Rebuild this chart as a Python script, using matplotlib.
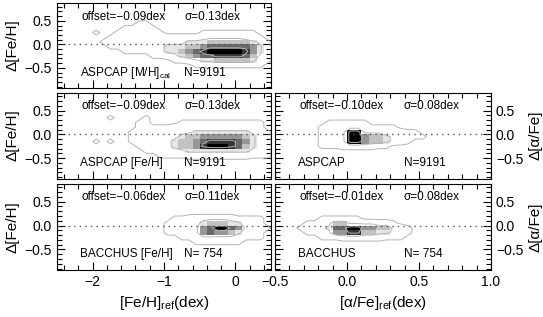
import numpy as np
import matplotlib
matplotlib.use("Agg")
import matplotlib.pyplot as plt
from matplotlib.colors import ListedColormap, BoundaryNorm
from matplotlib.ticker import MultipleLocator

plt.rcParams['font.family'] = ['Liberation Sans', 'DejaVu Sans']
plt.rcParams['mathtext.default'] = 'regular'

# Density maps, one digit per cell (0 = empty, 9 = peak).
# Rows run top to bottom. [Fe/H] maps: x from -2.4 in 0.1 dex bins, y from 0.6 down in 0.1 dex bins.
mh_cal_map = [
    "00000000000000000000000000000",
    "00000000001100000000000000000",
    "00000000111110000000000000000",
    "00001001111111000001111111100",
    "00000011111222222223333332210",
    "00000111122223333444555555431",
    "00000011112233444556777777641",
    "00000000111123445678999998641",
    "00000000000011234567788887531",
    "00000000000000011234455555421",
    "00000000000000000011111111110",
    "00000000000000000000000000000",
]
aspcap_fe_map = [
    "00000000000000000000000000000",
    "00000000000000000000000000000",
    "00000010000100000000000000000",
    "00000000001100001111111111110",
    "00000000001111122222222222110",
    "00000000011111223344444444321",
    "00000000011112234556666665421",
    "00001010011122345567888876421",
    "00000000001112345568999875421",
    "00000000000111233444444444321",
    "00000000000001111222222222111",
    "00000000000000000000000000000",
]
bacchus_fe_map = [
    "00000000000000000000000000000",
    "00000000000000000000000000000",
    "00000000000000000000000000000",
    "00000000000000000000000000000",
    "00000000000000011233333311110",
    "00000000000000122234555442210",
    "00000000000000112236799763111",
    "00000000000000112236766542110",
    "00000000000000001123333321110",
    "00000000000000000011111110000",
    "00000000000000000000000000000",
    "00000000000000000000000000000",
]
# [alpha/Fe] maps: x from -0.4 in 0.05 dex bins, y from 0.4 down in 0.1 dex bins.
aspcap_alpha_map = [
    "00000000000000000000",
    "00000111111000000000",
    "00001112222111100000",
    "00001223993332221100",
    "00001233996554321110",
    "00001233996554321000",
    "00001112222211000000",
    "00000000000000000000",
    "00000000000000000000",
]
bacchus_alpha_map = [
    "00000000000000000000",
    "00000000000000000000",
    "00001111110000000000",
    "00112355333322100000",
    "01123477996655331000",
    "00112366885544321000",
    "00001112222221110000",
    "00000000000000000000",
    "00000000000000000000",
]

# Panel captions
panel_names = [r"ASPCAP [M/H]$_{cal}$", "ASPCAP [Fe/H]", "BACCHUS [Fe/H]", "ASPCAP", "BACCHUS"]
panel_offsets = ["\u22120.09", "\u22120.09", "\u22120.06", "\u22120.10", "\u22120.01"]
panel_sigmas = ["0.13", "0.13", "0.11", "0.08", "0.08"]
panel_counts = ["9191", "9191", " 754", "9191", " 754"]

# grey shade for each density digit (0..9); digits up to 3 only show as contours
grey_levels = [1.0, 1.0, 1.0, 1.0, 0.90, 0.76, 0.59, 0.41, 0.21, 0.0]
cmap = ListedColormap([(g, g, g) for g in grey_levels])
norm = BoundaryNorm(np.arange(-0.5, 10.5, 1.0), cmap.N)


def draw_map(ax, rows, x0, dx, y0, dy):
    """Draw a density map as grey cells plus light contour lines."""
    grid = np.array([[int(c) for c in r] for r in rows], dtype=float)[::-1]
    ny, nx = grid.shape
    x_edges = x0 + dx * np.arange(nx + 1)
    y_edges = (y0 - dy * ny) + dy * np.arange(ny + 1)
    ax.pcolormesh(x_edges, y_edges, grid, cmap=cmap, norm=norm, shading='flat', zorder=1)

    # pad with empty cells so every contour closes
    padded = np.pad(grid, 1)
    xc = x0 - dx / 2 + dx * np.arange(nx + 2)
    yc = (y0 - dy * ny) - dy / 2 + dy * np.arange(ny + 2)
    ax.contour(xc, yc, padded, levels=[0.5, 3.5, 7.5], colors='#b4b4b4',
               linewidths=0.7, zorder=2)


def style_axes(ax, right=False):
    ax.set_ylim(-0.93, 0.88)
    ax.set_yticks([-0.5, 0.0, 0.5])
    ax.set_yticklabels(["\u22120.5", "0.0", "0.5"], fontsize=10)
    ax.yaxis.set_minor_locator(MultipleLocator(0.1))
    ax.tick_params(which='both', direction='in', top=True, right=True, width=0.8)
    ax.tick_params(which='major', length=6)
    ax.tick_params(which='minor', length=3.5)
    if right:
        ax.tick_params(axis='y', which='both', labelleft=False, labelright=True)
        ax.yaxis.set_label_position('right')
        ax.set_ylabel("\u0394[\u03b1/Fe]", fontsize=11)
    else:
        ax.set_ylabel("\u0394[Fe/H]", fontsize=11)
    for s in ax.spines.values():
        s.set_linewidth(0.8)
    ax.axhline(0.0, color='#555555', lw=1.0, ls=(0, (1, 3)), zorder=3)


def annotate(ax, k):
    kw = dict(transform=ax.transAxes, fontsize=8.5, va='center', ha='left')
    ax.text(0.115, 0.84, "offset=" + panel_offsets[k] + "dex", **kw)
    ax.text(0.595, 0.84, "\u03c3=" + panel_sigmas[k] + "dex", **kw)
    ax.text(0.108, 0.18, panel_names[k], **kw)
    ax.text(0.595, 0.18, "N=" + panel_counts[k], **kw)


W, H = 543, 317
fig = plt.figure(figsize=(W / 100, H / 100), dpi=100)

def add_axes(x_left, x_right, y_top, y_bot):
    return fig.add_axes([x_left / W, 1 - y_bot / H, (x_right - x_left) / W, (y_bot - y_top) / H])

row_tops = [3, 92.5, 183.5]
row_bots = [88, 178.5, 270]

fe_maps = [mh_cal_map, aspcap_fe_map, bacchus_fe_map]
for i in range(3):
    ax = add_axes(57, 271, row_tops[i], row_bots[i])
    draw_map(ax, fe_maps[i], -2.4, 0.1, 0.6, 0.1)
    ax.set_xlim(-2.5, 0.5)
    ax.set_xticks([-2, -1, 0])
    ax.xaxis.set_minor_locator(MultipleLocator(0.2))
    style_axes(ax)
    annotate(ax, i)
    if i == 2:
        ax.set_xticklabels(["\u22122", "\u22121", "0"], fontsize=10)
        ax.set_xlabel(r"[Fe/H]$_{ref}$(dex)", fontsize=11)
    else:
        ax.set_xticklabels([])

alpha_maps = [aspcap_alpha_map, bacchus_alpha_map]
for j in range(2):
    ax = add_axes(275, 491, row_tops[j + 1], row_bots[j + 1])
    draw_map(ax, alpha_maps[j], -0.4, 0.05, 0.4, 0.1)
    ax.set_xlim(-0.5, 1.0)
    ax.set_xticks([-0.5, 0.0, 0.5, 1.0])
    ax.xaxis.set_minor_locator(MultipleLocator(0.1))
    style_axes(ax, right=True)
    annotate(ax, 3 + j)
    if j == 1:
        ax.set_xticklabels(["\u22120.5", "0.0", "0.5", "1.0"], fontsize=10)
        ax.set_xlabel("[\u03b1/Fe]$_{ref}$(dex)", fontsize=11)
    else:
        ax.set_xticklabels([])

fig.savefig("out.png", dpi=100)
